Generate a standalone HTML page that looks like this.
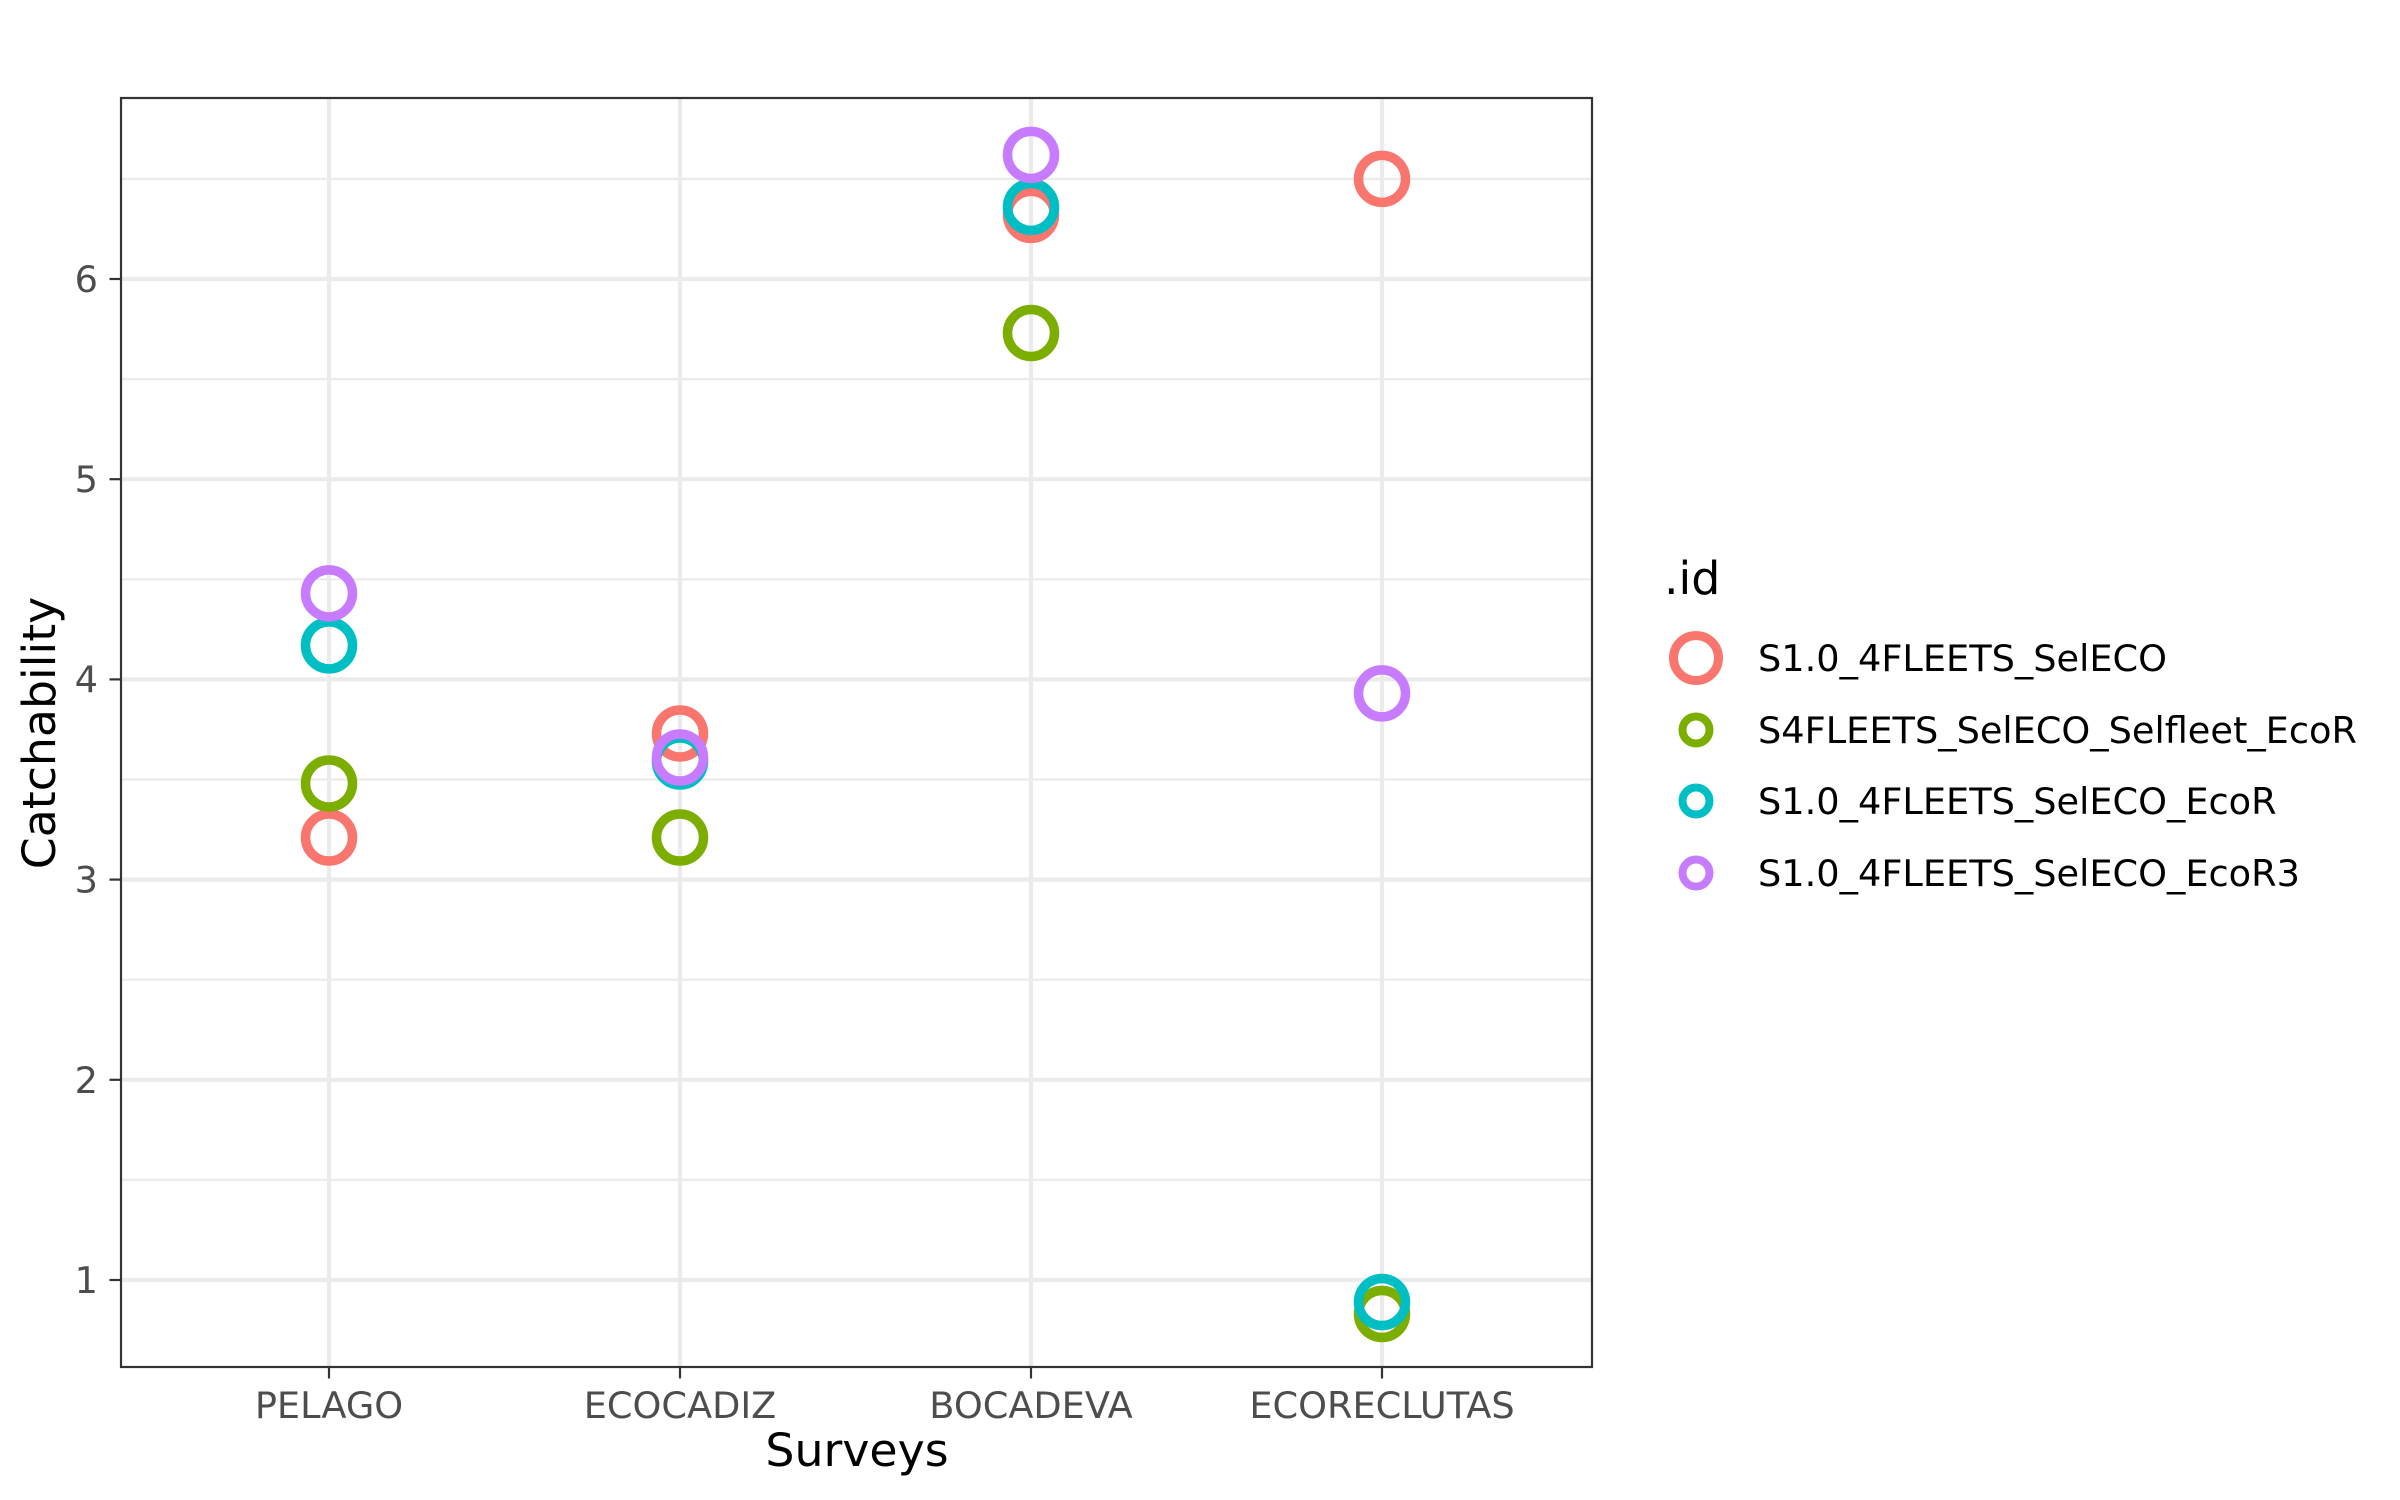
<!DOCTYPE html>
<html><head><meta charset="utf-8"><style>
html,body{margin:0;padding:0;background:#fff}
svg{display:block;font-family:"DejaVu Sans","Liberation Sans",sans-serif}
</style></head><body>
<svg id="chart" width="2400" height="1500" viewBox="0 0 2400 1500" xmlns="http://www.w3.org/2000/svg">
<rect width="2400" height="1500" fill="#fff"/>
<g id="grid"></g>
<g id="points"></g>
<rect x="121" y="98" width="1471" height="1269" fill="none" stroke="#333" stroke-width="2.2"/>
<g id="axes"></g>
<text x="857" y="1466" font-size="45.8" text-anchor="middle" fill="#000">Surveys</text>
<text transform="translate(55,733) rotate(-90)" font-size="45.8" text-anchor="middle" fill="#000">Catchability</text>
<g id="legend">
<text x="1664" y="594" font-size="45.8" fill="#000">.id</text>
</g>
</svg>
<script>
const categories = ["PELAGO","ECOCADIZ","BOCADEVA","ECORECLUTAS"];
const seriesNames = ["S1.0_4FLEETS_SelECO","S4FLEETS_SelECO_Selfleet_EcoR","S1.0_4FLEETS_SelECO_EcoR","S1.0_4FLEETS_SelECO_EcoR3"];
const seriesColors = ["#F8766D","#7CAE00","#00BFC4","#C77CFF"];
const valuesS1 = [3.21, 3.73, 6.32, 6.50];
const valuesS4 = [3.48, 3.21, 5.73, 0.83];
const valuesEcoR = [4.17, 3.59, 6.36, 0.89];
const valuesEcoR3 = [4.43, 3.61, 6.62, 3.93];
const yTicks = [1,2,3,4,5,6];
const yMinor = [1.5,2.5,3.5,4.5,5.5,6.5];

const NS = "http://www.w3.org/2000/svg";
const L=121,R=1592,T=98,B=1367;
function yScale(v){return 1280-(v-1)*200.2;}
function xScale(i){return 329+i*((1382-329)/(categories.length-1));}
function mk(tag,attrs,parent){const e=document.createElementNS(NS,tag);for(const k in attrs)e.setAttribute(k,attrs[k]);parent.appendChild(e);return e;}

const grid=document.getElementById('grid');
yMinor.forEach(v=>{const l=mk('line',{x1:L,x2:R,y1:yScale(v),y2:yScale(v),stroke:'#EBEBEB','stroke-width':2.2},grid);

});
yTicks.forEach(v=>{const l=mk('line',{x1:L,x2:R,y1:yScale(v),y2:yScale(v),stroke:'#EBEBEB','stroke-width':4.2},grid);

});
categories.forEach((c,i)=>{const l=mk('line',{x1:xScale(i),x2:xScale(i),y1:T,y2:B,stroke:'#EBEBEB','stroke-width':4.2},grid);

});

const axes=document.getElementById('axes');
yTicks.forEach(v=>{
 const t=mk('line',{x1:109.5,x2:L,y1:yScale(v),y2:yScale(v),stroke:'#333','stroke-width':2.2},axes);
 
 
 const tx=mk('text',{x:98,y:yScale(v)+13,'font-size':36.7,'text-anchor':'end',fill:'#4D4D4D'},axes);
 tx.textContent=v;
 
 
});
categories.forEach((c,i)=>{
 const t=mk('line',{x1:xScale(i),x2:xScale(i),y1:B,y2:B+11.5,stroke:'#333','stroke-width':2.2},axes);
 
 
 const tx=mk('text',{x:xScale(i),y:1418,'font-size':36.7,'text-anchor':'middle',fill:'#4D4D4D'},axes);
 tx.textContent=c;
 
 
});

const pts=document.getElementById('points');
const allSeries=[valuesS1,valuesS4,valuesEcoR,valuesEcoR3];
allSeries.forEach((vals,s)=>{
 vals.forEach((v,i)=>{
  const c=mk('circle',{cx:xScale(i),cy:yScale(v),r:23.5,fill:'none',stroke:seriesColors[s],'stroke-width':9.5},pts);
  
  
 });
});

const lg=document.getElementById('legend');
const keyY=[658,730,801,873];
seriesNames.forEach((n,s)=>{
 const big=s===0;
 const c=mk('circle',{cx:1696,cy:keyY[s],r:big?22.5:13.5,fill:'none',stroke:seriesColors[s],'stroke-width':big?9:8},lg);
 
 
 const t=mk('text',{x:1758,y:keyY[s]+13,'font-size':36.7,fill:'#000'},lg);
 t.textContent=n;
 
 
});
</script>
</body></html>
